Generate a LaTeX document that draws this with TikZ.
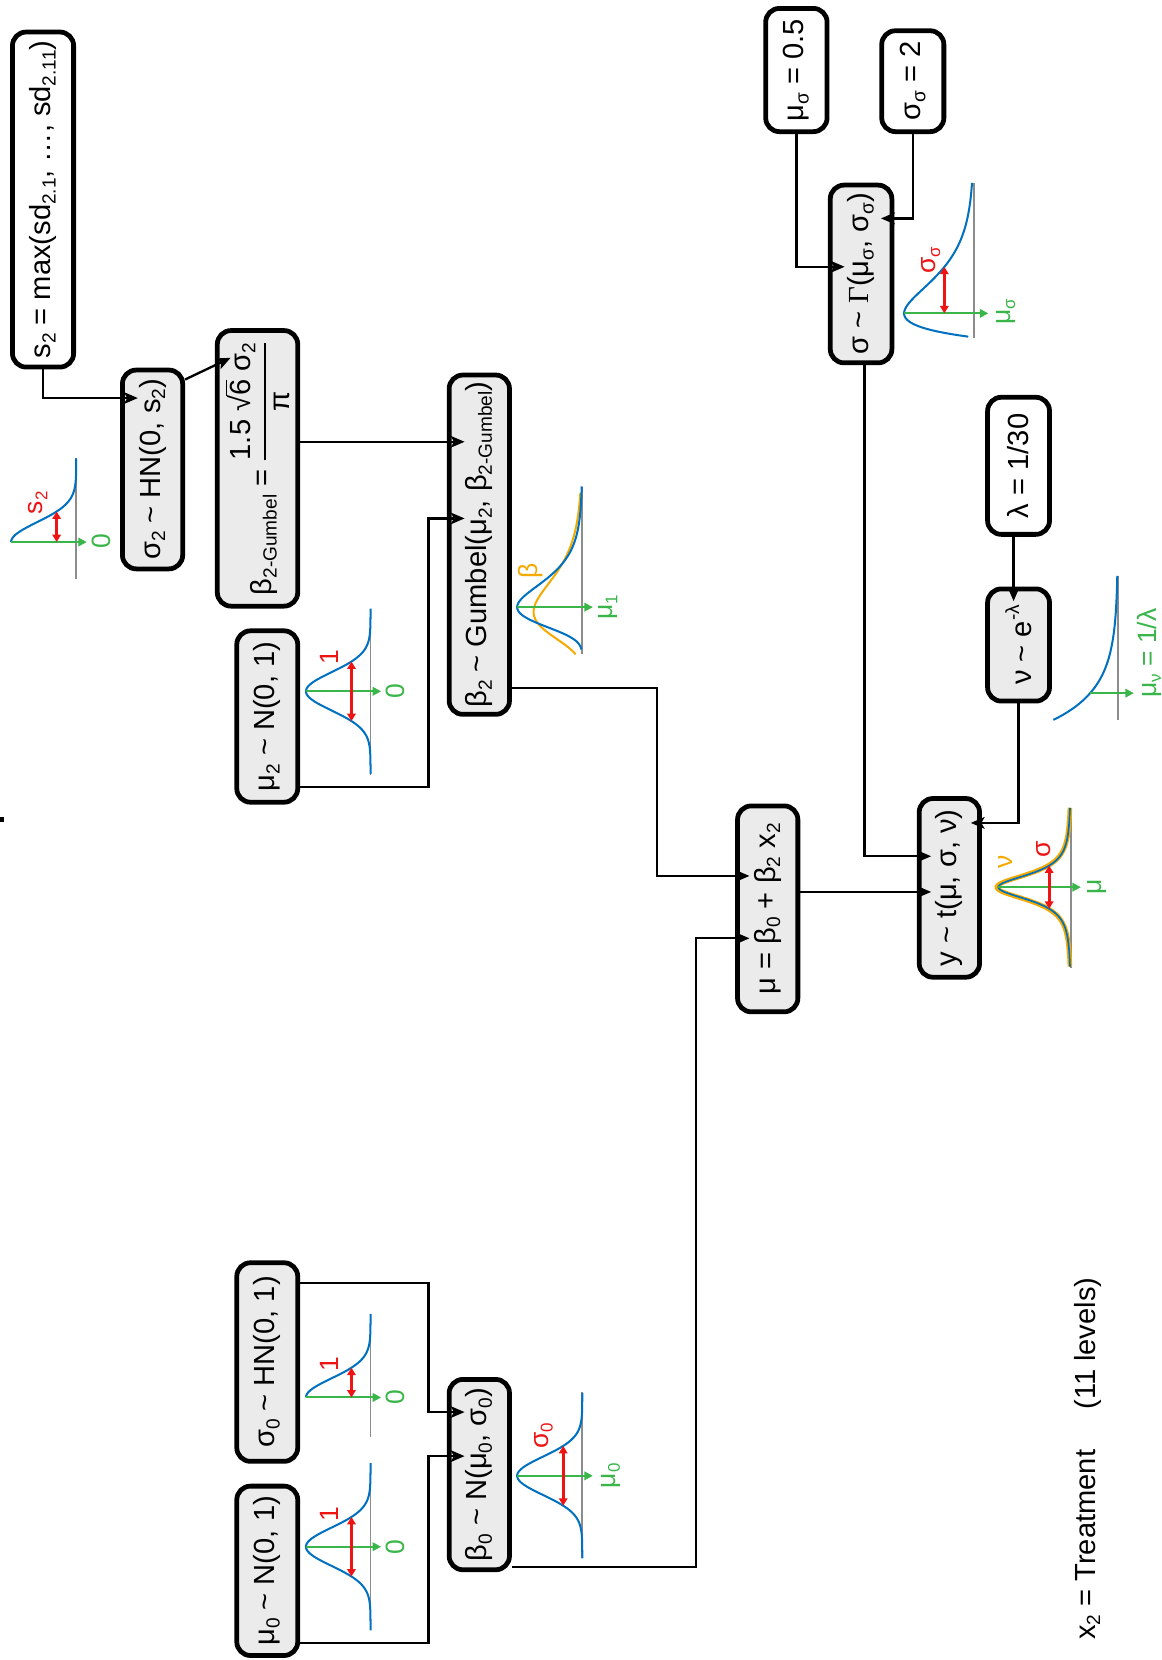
\documentclass[tikz,border=0pt]{standalone}
\usepackage{amsmath}
\usepackage{fontspec}
\setmainfont{Liberation Sans}
\newfontfamily\seriffont{Liberation Serif}
\usetikzlibrary{arrows.meta,calc}
\definecolor{cblue}{RGB}{0,112,192}
\definecolor{cgreen}{RGB}{57,181,74}
\definecolor{cred}{RGB}{238,20,20}
\definecolor{corange}{RGB}{245,170,0}
\definecolor{cgray}{RGB}{140,140,140}
\definecolor{boxgray}{RGB}{235,235,235}
\newcommand\boxfont{\fontsize{27.5}{32}\selectfont}
\newcommand\labfont{\fontsize{25}{28}\selectfont}
\newcommand\tld{\textasciitilde}
% subscripts / superscripts for box text and for labels
\newcommand\bsub[1]{\raisebox{-0.17em}{\fontsize{18}{18}\selectfont #1}}
\newcommand\bsup[1]{\raisebox{0.42em}{\fontsize{18}{18}\selectfont #1}}
\newcommand\lsub[1]{\raisebox{-0.17em}{\fontsize{16}{16}\selectfont #1}}
\tikzset{
  box/.style={draw=black, line width=4.5pt, rounded corners=13pt, fill=boxgray, rotate=90, inner sep=0pt, font=\boxfont},
  wbox/.style={box, fill=white},
  conn/.style={line width=2.2pt, -{Stealth[length=13pt,width=11pt,inset=3pt]}},
  dens/.style={cblue, line width=1.9pt},
  axisline/.style={cgray, line width=1.8pt},
  meanarrow/.style={cgreen, line width=1.9pt, -{Triangle[length=8pt,width=8pt]}},
  sdarrow/.style={cred, line width=2.6pt, {Triangle[length=7pt,width=8pt]}-{Triangle[length=7pt,width=8pt]}},
  lab/.style={rotate=90, inner sep=0pt, font=\labfont},
}
\begin{document}
\begin{tikzpicture}[x=1pt, y=-1pt]
\useasboundingbox (0,0) rectangle (1097,1568);

% ---------- boxes ----------
\node[wbox, minimum width=316.5pt, minimum height=57.8pt] (s2) at (40.65,188.5) {s\bsub{2} = max(sd\bsub{2.1}, …, sd\bsub{2.11})};
\node[box, minimum width=187.8pt, minimum height=56.9pt] (sig2) at (144.1,443.45) {σ\bsub{2} \tld{} HN(0, s\bsub{2})};
\node[box, minimum width=260.3pt, minimum height=76pt] (b2g) at (243.25,442.4) {β\bsub{2-Gumbel} = $\genfrac{}{}{2.6pt}{0}{\mbox{1.5 √$\overline{\mbox{6}}$ σ\bsub{2}}}{\mbox{π}}$};
\node[box, minimum width=320.5pt, minimum height=57pt] (beta2) at (452.75,514.5) {β\bsub{2} \tld{} Gumbel(μ\bsub{2}, β\bsub{2-Gumbel})};
\node[box, minimum width=161.9pt, minimum height=57.6pt] (mu2) at (252.45,676.8) {μ\bsub{2} \tld{} N(0, 1)};
\node[box, minimum width=187.6pt, minimum height=57.6pt] (sig0) at (252.45,1286.55) {σ\bsub{0} \tld{} HN(0, 1)};
\node[box, minimum width=160pt, minimum height=57.6pt] (mu0) at (252.45,1483.75) {μ\bsub{0} \tld{} N(0, 1)};
\node[box, minimum width=179.8pt, minimum height=57pt] (beta0) at (452.75,1392.85) {β\bsub{0} \tld{} N(μ\bsub{0}, σ\bsub{0})};
\node[box, minimum width=194.5pt, minimum height=57pt] (mu) at (725.15,858.5) {μ = β\bsub{0} + β\bsub{2} x\bsub{2}};
\node[box, minimum width=168.8pt, minimum height=57pt] (ynode) at (896.75,838.65) {y \tld{} t(μ, σ, ν)};
\node[box, minimum width=167.9pt, minimum height=58.2pt] (sig) at (813.35,258.8) {σ \tld{} {\seriffont Γ}(μ\bsub{σ}, σ\bsub{σ})};
\node[wbox, minimum width=116.4pt, minimum height=58pt] (musig) at (752.25,66.15) {μ\bsub{σ} = 0.5};
\node[wbox, minimum width=95.3pt, minimum height=58.7pt] (sigsig) at (862.2,76.7) {σ\bsub{σ} = 2};
\node[wbox, minimum width=129.5pt, minimum height=58.5pt] (lam) at (962.1,440) {λ = 1/30};
\node[box, minimum width=106pt, minimum height=58.5pt] (nu) at (962.1,609.25) {ν \tld{} e\bsup{-λ}};

\node[rotate=90, inner sep=0pt, font=\boxfont, anchor=base] (treat) at (1034.5,1377.8) {x\bsub{2} = Treatment\hspace{38pt}(11 levels)};

% ---------- connectors ----------
\draw[conn] (s2.west) |- ($(sig2.north |- 0,376)+(16.8,0)$);
\draw[conn] (sig2.south |- 0,358.5) -- ($(b2g.north |- 0,338)+(14.8,0)$);
\draw[conn] (b2g.south |- 0,417.3) -- ($(beta2.north |- 0,417.3)+(16.8,0)$);
\draw[conn] (mu2.south |- 0,743.3) -- (404.6,743.3) |- ($(beta2.north |- 0,489.7)+(16.8,0)$);
\draw[conn] (sig0.south |- 0,1211.6) -- (404.6,1211.6) |- ($(beta0.north |- 0,1333.8)+(16.8,0)$);
\draw[conn] (mu0.south |- 0,1551.7) -- (404.6,1551.7) |- ($(beta0.north |- 0,1375.4)+(16.8,0)$);
\draw[conn] (beta2.south |- 0,650) -- (620.4,650) |- ($(mu.north |- 0,827.4)+(13.5,0)$);
\draw[conn] (beta0.south |- 0,1480.2) -- (657.6,1480.2) |- ($(mu.north |- 0,886.3)+(13.5,0)$);
\draw[conn] (mu.south |- 0,842.5) -- ($(ynode.north |- 0,842.5)+(13.5,0)$);
\draw[conn] (816.6,0 |- sig.west) |- ($(ynode.north |- 0,808.8)+(13.5,0)$);
\draw[conn] (nu.west) |- ($(ynode.south |- 0,777.3)+(-10.5,0)$);
\draw[conn] (957.4,0 |- lam.west) -- ($(957.4,0 |- nu.east)+(0,13.8)$);
\draw[conn] (musig.west) |- ($(sig.north |- 0,252)+(15.8,0)$);
\draw[conn] (sigsig.west) |- ($(sig.south |- 0,206.3)+(-12.5,0)$);

% ---------- density sketches ----------
% sigma2 ~ HN
\draw[axisline] (72,433) -- (72,547);
\draw[dens] plot[domain=0:79,samples=60,smooth] ({72-61.5*exp(-0.5*(\x/18.6)*(\x/18.6))},{512-\x});
\draw[meanarrow] (10.5,512) -- (82,512);
\draw[sdarrow] (53.5,512) -- (53.5,483.2);
\node[lab, text=cred] (ls2) at (36,475) {s\lsub{2}};
\node[lab, text=cgreen] (lz1) at (95.3,511.6) {0};

% mu2 ~ N
\draw[axisline] (350,575) -- (350,732);
\draw[dens] plot[domain=-78:78,samples=90,smooth] ({350-61*exp(-0.5*(\x/18)*(\x/18))},{653+\x});
\draw[meanarrow] (289,653) -- (360,653);
\draw[sdarrow] (332,624.9) -- (332,681.1);
\node[lab, text=cred] (lo2) at (311,621) {1};
\node[lab, text=cgreen] (lz2) at (373.7,653) {0};

% sigma0 ~ HN
\draw[axisline] (350,1241) -- (350,1357);
\draw[dens] plot[domain=0:79,samples=60,smooth] ({350-61*exp(-0.5*(\x/18)*(\x/18))},{1320-\x});
\draw[meanarrow] (289,1320) -- (360,1320);
\draw[sdarrow] (332,1320) -- (332,1291.9);
\node[lab, text=cred] (lo3) at (311,1288.5) {1};
\node[lab, text=cgreen] (lz3) at (373.7,1320) {0};

% mu0 ~ N
\draw[axisline] (350,1382) -- (350,1540);
\draw[dens] plot[domain=-79:79,samples=90,smooth] ({350-61*exp(-0.5*(\x/18)*(\x/18))},{1461+\x});
\draw[meanarrow] (289,1461) -- (360,1461);
\draw[sdarrow] (332,1432.9) -- (332,1489.1);
\node[lab, text=cred] (lo4) at (311,1430) {1};
\node[lab, text=cgreen] (lz4) at (373.7,1461) {0};

% beta0 ~ N
\draw[axisline] (550,1315) -- (550,1472);
\draw[dens] plot[domain=-78:78,samples=90,smooth] ({550-61.5*exp(-0.5*(\x/18)*(\x/18))},{1394+\x});
\draw[meanarrow] (488.5,1394) -- (560,1394);
\draw[sdarrow] (532,1365.8) -- (532,1422.2);
\node[lab, text=cred] (ls0) at (513.3,1356) {σ\lsub{0}};
\node[lab, text=cgreen] (lm0) at (577,1394) {μ\lsub{0}};

% beta2 ~ Gumbel
\draw[axisline] (550,460) -- (550,618);
\draw[corange, line width=1.9pt] plot[domain=-1.5:4.2,samples=90,smooth] ({550-46*exp(1-\x-exp(-\x))},{578-26.7*\x});
\draw[dens] plot[domain=-2:5.7,samples=100,smooth] ({550-61.5*exp(1-\x-exp(-\x))},{573.5-20*\x});
\draw[meanarrow] (488.5,573.5) -- (560,573.5);
\node[lab, text=corange] (lb) at (501,539.4) {β};
\node[lab, text=cgreen] (lm1) at (574.8,573.5) {μ\lsub{1}};

% sigma ~ Gamma
\draw[axisline] (920,173) -- (920,319);
\draw[dens] plot[domain=0.7:146,samples=100,smooth] ({920-66*(\x/22.7)*exp(1-\x/22.7)},{318.7-\x});
\draw[meanarrow] (854,296) -- (933.5,296);
\draw[sdarrow] (892,296) -- (892,252);
\node[lab, text=cred] (lss) at (879.4,245.7) {σ\lsub{σ}};
\node[lab, text=cgreen] (lms) at (950.3,294.5) {μ\lsub{σ}};

% y ~ t
\draw[axisline] (1011.6,764) -- (1011.6,914);
\draw[corange, line width=4.4pt] plot[domain=-75:75,samples=100,smooth] ({1011.6-70*(1+0.5*(\x/13.2)*(\x/13.2))^(-1.5)},{838+\x});
\draw[cblue, line width=1.6pt] plot[domain=-75:75,samples=100,smooth] ({1011.6-68.6*(1+0.5*(\x/13)*(\x/13))^(-1.5)},{838+\x});
\draw[meanarrow] (943,838) -- (1021,838);
\draw[sdarrow] (991,817.6) -- (991,858.4);
\node[lab, text=corange] (lnu) at (949.5,814) {ν};
\node[lab, text=cred] (lsig) at (986,802) {σ};
\node[lab, text=cgreen] (lmu) at (1036,838) {μ};

% nu ~ exp
\draw[axisline] (1056,544) -- (1056,680);
\draw[dens] plot[domain=0:136,samples=80,smooth] ({1056-61*exp(-\x/30)},{680-\x});
\draw[meanarrow] (1029.8,654.7) -- (1071,654.7);
\node[lab, text=cgreen] (lmnu) at (1085.5,617) {μ\lsub{ν} = 1/λ};

% stray mark
\fill[black] (0,772) rectangle (3.6,776.5);
\end{tikzpicture}
\end{document}
